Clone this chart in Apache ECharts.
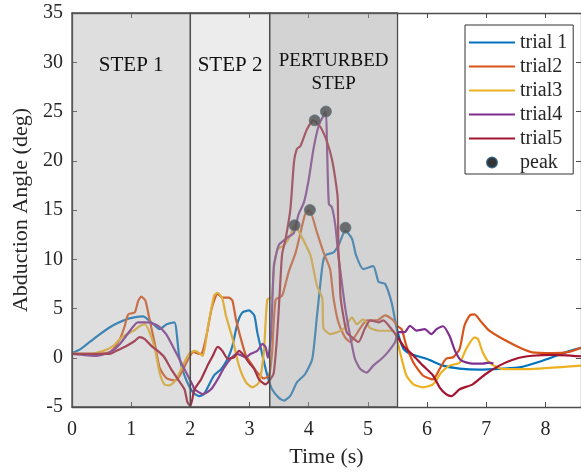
<!DOCTYPE html>
<html>
<head>
<meta charset="utf-8">
<script src="https://cdn.jsdelivr.net/npm/echarts@6/dist/echarts.min.js"></script>
<style>
  html, body { margin: 0; padding: 0; background: #fff; }
  #chart { width: 581px; height: 473px; }
</style>
</head>
<body>
<div id="chart"></div>
<script>
// values: [time (s), abduction angle (deg)]
var trial1 = [[0,0.45],[0.15,0.9],[0.3,1.6],[0.45,2.3],[0.64,3.1],[0.8,3.6],[0.97,4.0],[1.2,4.2],[1.34,3.6],[1.48,2.9],[1.6,3.4],[1.73,3.6],[1.81,0.2],[1.9,-1.8],[2.04,-3.5],[2.15,-3.9],[2.23,-3.7],[2.4,-1.8],[2.52,-1.15],[2.63,-0.1],[2.71,1.2],[2.8,3.6],[2.88,4.6],[2.99,4.8],[3.08,4.3],[3.13,2.6],[3.22,0.2],[3.3,-1.8],[3.38,-3.2],[3.5,-4.1],[3.58,-4.35],[3.69,-3.85],[3.8,-2.5],[3.94,-1.65],[4.06,-0.1],[4.14,4.3],[4.23,9.3],[4.28,10.4],[4.42,10.7],[4.5,11.4],[4.62,12.9],[4.73,12.1],[4.8,10.4],[4.92,9.0],[5.09,9.3],[5.18,7.7],[5.29,7.5],[5.4,5.6],[5.49,2.9],[5.6,0.9],[5.71,0.4],[5.99,-0.1],[6.27,-0.8],[6.55,-1.1],[6.88,-1.2],[7.28,-1.1],[7.56,-0.97],[7.95,-0.3],[8.34,0.55],[8.6,1.0]];
var trial2 = [[0,0.4],[0.3,0.4],[0.6,0.5],[0.7,0.9],[0.81,1.9],[0.89,3.2],[0.95,4.4],[1.06,4.6],[1.12,5.8],[1.17,6.2],[1.24,5.8],[1.31,3.9],[1.4,1.4],[1.48,-1.0],[1.6,-2.1],[1.75,-2.3],[1.85,-1.5],[1.95,-0.3],[2.05,0.6],[2.15,0.4],[2.2,0.5],[2.28,2.5],[2.36,5.0],[2.46,6.5],[2.54,6.1],[2.65,6.1],[2.71,5.8],[2.77,3.9],[2.85,2.0],[2.94,0.2],[3.05,-0.8],[3.13,-1.5],[3.24,-2.1],[3.33,-1.8],[3.38,0.5],[3.44,5.9],[3.55,6.3],[3.66,8.7],[3.78,10.7],[3.94,14.6],[4.01,15.0],[4.14,12.7],[4.25,10.7],[4.36,9.0],[4.42,6.0],[4.5,3.6],[4.61,2.1],[4.7,1.6],[4.87,3.0],[4.98,3.8],[5.15,3.8],[5.29,4.3],[5.43,3.8],[5.5,3.2],[5.57,2.9],[5.65,1.2],[5.77,-0.5],[5.93,-1.8],[6.1,-2.2],[6.21,-1.15],[6.32,-0.1],[6.44,0.05],[6.55,0.9],[6.63,3.25],[6.72,4.3],[6.8,4.4],[6.92,3.6],[7.05,2.75],[7.28,1.9],[7.56,1.05],[7.78,0.55],[8.12,0.48],[8.4,0.6],[8.6,1.0]];
var trial3 = [[0,0.4],[0.3,0.4],[0.53,0.7],[0.7,1.2],[0.81,1.9],[0.92,2.4],[1.03,2.7],[1.14,3.2],[1.23,3.4],[1.31,2.6],[1.4,0.9],[1.48,-1.5],[1.56,-2.7],[1.65,-2.8],[1.76,-2.2],[1.87,-0.8],[1.98,0.4],[2.07,0.7],[2.12,0.6],[2.21,0.2],[2.29,2.9],[2.4,6.3],[2.46,6.6],[2.54,6.0],[2.6,4.3],[2.71,2.0],[2.82,-0.8],[2.94,-2.5],[3.05,-3.0],[3.16,-2.5],[3.24,0.5],[3.3,5.9],[3.38,6.2],[3.41,9.0],[3.47,11],[3.58,11.4],[3.69,12.4],[3.76,13.45],[3.86,12.5],[4.03,10.4],[4.08,9.0],[4.14,7.3],[4.23,6.0],[4.25,3.0],[4.36,2.4],[4.48,2.6],[4.6,3.0],[4.73,4.1],[4.81,3.4],[4.92,3.9],[5.04,3.0],[5.2,2.74],[5.43,2.74],[5.5,1.6],[5.57,-0.1],[5.65,-1.8],[5.77,-2.7],[5.93,-3.0],[6.1,-2.7],[6.24,-1.5],[6.38,-0.8],[6.55,-0.5],[6.66,0.9],[6.8,2.07],[6.86,1.9],[6.94,0.55],[7.05,-0.5],[7.28,-1.15],[7.67,-1.15],[8.6,-0.8]];
var trial4 = [[0,0.4],[0.42,0.2],[0.64,0.55],[0.81,1.4],[1.0,2.9],[1.11,3.6],[1.28,3.6],[1.45,3.25],[1.59,2.4],[1.7,1.2],[1.81,-0.1],[1.93,-1.5],[2.04,-2.8],[2.07,-3.2],[2.21,-3.7],[2.35,-3.2],[2.46,-2.2],[2.57,-1.0],[2.68,-0.1],[2.79,0.4],[2.94,0.05],[3.02,0.4],[3.13,0.7],[3.22,1.4],[3.27,1.1],[3.31,0.0],[3.36,2.0],[3.41,9.3],[3.47,11.0],[3.5,11.5],[3.64,12.2],[3.75,12.7],[3.83,14.6],[3.92,15.8],[4.0,18.1],[4.08,21.2],[4.17,23.6],[4.25,24.6],[4.29,25.0],[4.31,21.2],[4.34,15.6],[4.39,15.3],[4.45,13.4],[4.5,10.4],[4.53,9.0],[4.61,5.3],[4.7,2.2],[4.78,-0.1],[4.87,-1.15],[4.98,-1.5],[5.09,-0.8],[5.23,-0.1],[5.34,0.6],[5.46,1.6],[5.51,2.6],[5.62,2.6],[5.71,3.25],[5.82,2.75],[5.96,2.9],[6.07,2.4],[6.16,2.9],[6.27,3.2],[6.38,2.2],[6.47,0.72],[6.58,-0.3],[6.77,-0.6],[6.94,-0.6],[7.05,-0.5],[7.12,-0.6]];
var trial5 = [[0,0.4],[0.3,0.4],[0.64,0.4],[0.75,0.7],[0.92,1.2],[1.06,1.7],[1.14,2.1],[1.23,1.9],[1.34,1.2],[1.45,0.7],[1.56,0.05],[1.67,-1.1],[1.79,-2.2],[1.9,-3.2],[1.95,-4.5],[2.0,-4.9],[2.07,-3.2],[2.18,-2.2],[2.29,-0.8],[2.38,0.2],[2.46,1.1],[2.54,0.7],[2.63,-0.1],[2.74,0.05],[2.82,0.7],[2.91,0.2],[2.99,-0.5],[3.08,-1.15],[3.16,-2.2],[3.27,-2.7],[3.35,-2.2],[3.41,-1.5],[3.47,2.6],[3.52,7.7],[3.55,10.5],[3.61,12.1],[3.69,15.1],[3.75,19.8],[3.8,21.2],[3.86,21.5],[3.97,23.2],[4.08,24.1],[4.2,23.4],[4.31,21.9],[4.39,20.2],[4.45,18.1],[4.49,16.1],[4.5,11],[4.52,9.0],[4.54,6.0],[4.64,2.6],[4.73,2.1],[4.84,1.6],[4.95,3.0],[5.04,3.8],[5.18,3.6],[5.26,3.8],[5.4,2.9],[5.49,2.2],[5.6,1.2],[5.77,0.2],[5.93,-0.8],[6.1,-1.8],[6.21,-3.0],[6.32,-3.7],[6.41,-3.9],[6.55,-3.2],[6.77,-2.7],[6.99,-1.65],[7.22,-0.8],[7.5,-0.1],[7.78,0.2],[8.12,0.3],[8.6,0.15]];
var peaks = [[3.76,13.45],[4.02,15.0],[4.1,24.1],[4.29,25.0],[4.62,13.2]];

var trialNames = ['trial 1', 'trial2', 'trial3', 'trial4', 'trial5'];
var trialColors = ['#0072BD', '#D95319', '#EDB120', '#7E2F8E', '#A2142F'];
var phaseNames = ['STEP 1', 'STEP 2', 'PERTURBED\nSTEP'];
var phaseStart = [0, 2, 3.34];
var phaseEnd = [2, 3.34, 5.5];
var phaseShade = ['rgba(165,165,165,0.37)', 'rgba(165,165,165,0.21)', 'rgba(165,165,165,0.49)'];

var serif = 'Liberation Serif';
var ink = '#262626';
var axisCol = '#4d4d4d';

var chart = echarts.init(document.getElementById('chart'), null, { renderer: 'canvas' });

var trials = [trial1, trial2, trial3, trial4, trial5];
var series = trials.map(function(d, i) {
  return {
    name: trialNames[i],
    type: 'line',
    data: d,
    symbol: 'none',
    smooth: 0.2,
    z: 2,
    lineStyle: { width: 2.2, color: trialColors[i] },
    itemStyle: { color: trialColors[i] }
  };
});

series.push({
  name: 'peak',
  type: 'scatter',
  data: peaks,
  symbolSize: 11,
  z: 3,
  itemStyle: { color: '#000', borderColor: '#1d4a6a', borderWidth: 1 }
});

// gray phase bands drawn over the lines, like the figure
series.push({
  name: 'phases',
  type: 'line',
  data: [],
  silent: true,
  markArea: {
    silent: true,
    z: 10,
    data: phaseNames.map(function(n, i) {
      return [
        {
          name: n,
          xAxis: phaseStart[i],
          itemStyle: { color: phaseShade[i], borderColor: axisCol, borderWidth: 1.3 },
          label: {
            show: true,
            position: 'insideTop',
            distance: i === 2 ? 37 : 42,
            fontFamily: serif,
            fontSize: i === 2 ? 19 : 21,
            lineHeight: 23,
            color: '#111',
            align: 'center'
          }
        },
        { xAxis: phaseEnd[i] }
      ];
    })
  }
});

var lineIcon = 'path://M0,0h46v2h-46z';

chart.setOption({
  animation: false,
  textStyle: { fontFamily: serif },
  legend: {
    data: trialNames.map(function(n) { return { name: n, icon: lineIcon }; })
      .concat([{ name: 'peak', icon: 'circle' }]),
    orient: 'vertical',
    left: 465,
    top: 25,
    padding: [7, 6, 1, 4],
    itemWidth: 46,
    itemHeight: 10,
    itemGap: 3,
    borderColor: '#333',
    borderWidth: 1,
    backgroundColor: '#fff',
    textStyle: { fontFamily: serif, fontSize: 20, color: ink, lineHeight: 21 }
  },
  grid: { left: 72, right: -3, top: 13, bottom: 65 },
  xAxis: [{
    type: 'value',
    min: 0,
    max: 8.6,
    interval: 1,
    name: 'Time (s)',
    nameLocation: 'middle',
    nameGap: 39,
    nameTextStyle: { fontFamily: serif, fontSize: 22, color: ink },
    axisLine: { onZero: false, lineStyle: { color: axisCol, width: 1.3 } },
    axisTick: { inside: true, length: 5, lineStyle: { color: axisCol } },
    axisLabel: { fontFamily: serif, fontSize: 20, color: ink, margin: 13, showMaxLabel: false },
    splitLine: { show: false }
  }, {
    type: 'value',
    position: 'top',
    min: 0,
    max: 8.6,
    interval: 1,
    axisLine: { show: true, onZero: false, lineStyle: { color: axisCol, width: 1.3 } },
    axisTick: { inside: true, length: 5, lineStyle: { color: axisCol } },
    axisLabel: { show: false },
    splitLine: { show: false }
  }],
  yAxis: [{
    type: 'value',
    min: -5,
    max: 35,
    interval: 5,
    name: 'Abduction Angle (deg)',
    nameLocation: 'middle',
    nameGap: 30,
    nameTextStyle: { fontFamily: serif, fontSize: 22, color: ink },
    axisLine: { show: true, onZero: false, lineStyle: { color: axisCol, width: 1.3 } },
    axisTick: { show: true, inside: true, length: 5, lineStyle: { color: axisCol } },
    axisLabel: { fontFamily: serif, fontSize: 20, color: ink, margin: 9 },
    splitLine: { show: false }
  }, {
    type: 'value',
    position: 'right',
    min: -5,
    max: 35,
    interval: 5,
    axisLine: { show: true, onZero: false, lineStyle: { color: axisCol, width: 1.3 } },
    axisTick: { show: true, inside: true, length: 5, lineStyle: { color: axisCol } },
    axisLabel: { show: false },
    splitLine: { show: false }
  }],
  series: series
});
</script>
</body>
</html>
